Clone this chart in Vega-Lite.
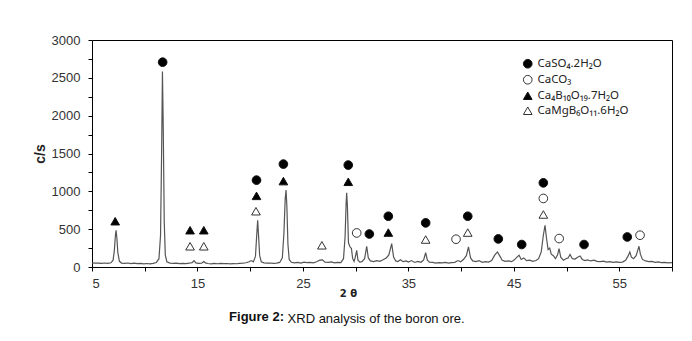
{
  "$schema": "https://vega.github.io/schema/vega-lite/v6.json",
  "background": "white",
  "padding": {"left": 32, "top": 33, "right": 5, "bottom": 5},
  "title": {"text": "XRD analysis of the boron ore.", "orient": "bottom", "anchor": "start", "font": "Liberation Sans", "fontSize": 13, "fontWeight": "normal", "color": "#111", "dx": 255, "dy": -16},
  "datasets": {
    "scan": [
      {"two_theta":5.0,"cps":55},{"two_theta":5.3,"cps":50},{"two_theta":5.6,"cps":52},{"two_theta":5.9,"cps":47},{"two_theta":6.2,"cps":53},{"two_theta":6.5,"cps":49},{"two_theta":6.8,"cps":56},{"two_theta":7.0,"cps":90},{"two_theta":7.12,"cps":220},{"two_theta":7.22,"cps":420},{"two_theta":7.28,"cps":486},{"two_theta":7.36,"cps":380},{"two_theta":7.45,"cps":190},{"two_theta":7.6,"cps":75},{"two_theta":7.8,"cps":52},{"two_theta":8.1,"cps":47},{"two_theta":8.4,"cps":53},{"two_theta":8.7,"cps":45},{"two_theta":9.0,"cps":50},{"two_theta":9.3,"cps":44},{"two_theta":9.6,"cps":48},{"two_theta":9.9,"cps":42},{"two_theta":10.2,"cps":46},{"two_theta":10.5,"cps":41},{"two_theta":10.8,"cps":47},{"two_theta":11.1,"cps":60},{"two_theta":11.35,"cps":110},{"two_theta":11.5,"cps":420},{"two_theta":11.6,"cps":1500},{"two_theta":11.68,"cps":2582},{"two_theta":11.76,"cps":1800},{"two_theta":11.85,"cps":600},{"two_theta":11.95,"cps":160},{"two_theta":12.1,"cps":70},{"two_theta":12.4,"cps":52},{"two_theta":12.7,"cps":47},{"two_theta":13.0,"cps":50},{"two_theta":13.3,"cps":44},{"two_theta":13.6,"cps":48},{"two_theta":13.9,"cps":45},{"two_theta":14.2,"cps":50},{"two_theta":14.5,"cps":58},{"two_theta":14.67,"cps":85},{"two_theta":14.85,"cps":55},{"two_theta":15.1,"cps":47},{"two_theta":15.4,"cps":50},{"two_theta":15.6,"cps":72},{"two_theta":15.75,"cps":55},{"two_theta":16.0,"cps":46},{"two_theta":16.3,"cps":42},{"two_theta":16.6,"cps":47},{"two_theta":16.9,"cps":43},{"two_theta":17.2,"cps":48},{"two_theta":17.5,"cps":44},{"two_theta":17.8,"cps":46},{"two_theta":18.1,"cps":41},{"two_theta":18.4,"cps":45},{"two_theta":18.7,"cps":43},{"two_theta":19.0,"cps":48},{"two_theta":19.3,"cps":50},{"two_theta":19.6,"cps":56},{"two_theta":19.9,"cps":70},{"two_theta":20.1,"cps":85},{"two_theta":20.3,"cps":68},{"two_theta":20.5,"cps":140},{"two_theta":20.62,"cps":420},{"two_theta":20.71,"cps":618},{"two_theta":20.8,"cps":400},{"two_theta":20.9,"cps":150},{"two_theta":21.05,"cps":70},{"two_theta":21.3,"cps":55},{"two_theta":21.6,"cps":50},{"two_theta":21.9,"cps":53},{"two_theta":22.2,"cps":48},{"two_theta":22.5,"cps":52},{"two_theta":22.8,"cps":60},{"two_theta":23.05,"cps":120},{"two_theta":23.2,"cps":450},{"two_theta":23.32,"cps":900},{"two_theta":23.4,"cps":1016},{"two_theta":23.48,"cps":800},{"two_theta":23.58,"cps":300},{"two_theta":23.7,"cps":100},{"two_theta":23.9,"cps":62},{"two_theta":24.2,"cps":55},{"two_theta":24.5,"cps":60},{"two_theta":24.8,"cps":52},{"two_theta":25.1,"cps":65},{"two_theta":25.4,"cps":58},{"two_theta":25.7,"cps":62},{"two_theta":26.0,"cps":55},{"two_theta":26.3,"cps":70},{"two_theta":26.6,"cps":90},{"two_theta":26.85,"cps":95},{"two_theta":27.1,"cps":65},{"two_theta":27.4,"cps":60},{"two_theta":27.7,"cps":68},{"two_theta":28.0,"cps":55},{"two_theta":28.3,"cps":62},{"two_theta":28.6,"cps":58},{"two_theta":28.85,"cps":110},{"two_theta":29.0,"cps":400},{"two_theta":29.1,"cps":850},{"two_theta":29.15,"cps":980},{"two_theta":29.22,"cps":800},{"two_theta":29.32,"cps":320},{"two_theta":29.45,"cps":270},{"two_theta":29.6,"cps":244},{"two_theta":29.72,"cps":110},{"two_theta":29.85,"cps":75},{"two_theta":29.95,"cps":120},{"two_theta":30.1,"cps":221},{"two_theta":30.22,"cps":90},{"two_theta":30.4,"cps":65},{"two_theta":30.6,"cps":70},{"two_theta":30.85,"cps":110},{"two_theta":31.05,"cps":274},{"two_theta":31.2,"cps":120},{"two_theta":31.4,"cps":80},{"two_theta":31.7,"cps":72},{"two_theta":32.0,"cps":85},{"two_theta":32.3,"cps":75},{"two_theta":32.6,"cps":95},{"two_theta":32.9,"cps":120},{"two_theta":33.15,"cps":160},{"two_theta":33.42,"cps":310},{"two_theta":33.6,"cps":130},{"two_theta":33.8,"cps":80},{"two_theta":34.0,"cps":72},{"two_theta":34.25,"cps":95},{"two_theta":34.5,"cps":70},{"two_theta":34.8,"cps":80},{"two_theta":35.0,"cps":65},{"two_theta":35.3,"cps":85},{"two_theta":35.6,"cps":60},{"two_theta":35.9,"cps":75},{"two_theta":36.2,"cps":62},{"two_theta":36.45,"cps":95},{"two_theta":36.64,"cps":190},{"two_theta":36.8,"cps":90},{"two_theta":37.0,"cps":65},{"two_theta":37.3,"cps":60},{"two_theta":37.6,"cps":52},{"two_theta":37.9,"cps":58},{"two_theta":38.2,"cps":55},{"two_theta":38.5,"cps":60},{"two_theta":38.8,"cps":52},{"two_theta":39.1,"cps":58},{"two_theta":39.4,"cps":62},{"two_theta":39.7,"cps":85},{"two_theta":39.95,"cps":70},{"two_theta":40.2,"cps":95},{"two_theta":40.5,"cps":150},{"two_theta":40.7,"cps":265},{"two_theta":40.9,"cps":120},{"two_theta":41.1,"cps":80},{"two_theta":41.4,"cps":72},{"two_theta":41.7,"cps":85},{"two_theta":42.0,"cps":62},{"two_theta":42.3,"cps":70},{"two_theta":42.6,"cps":65},{"two_theta":42.9,"cps":85},{"two_theta":43.2,"cps":160},{"two_theta":43.45,"cps":199},{"two_theta":43.65,"cps":150},{"two_theta":43.9,"cps":90},{"two_theta":44.2,"cps":75},{"two_theta":44.5,"cps":80},{"two_theta":44.8,"cps":70},{"two_theta":45.05,"cps":95},{"two_theta":45.3,"cps":130},{"two_theta":45.5,"cps":155},{"two_theta":45.7,"cps":100},{"two_theta":45.95,"cps":120},{"two_theta":46.2,"cps":85},{"two_theta":46.5,"cps":90},{"two_theta":46.8,"cps":75},{"two_theta":47.1,"cps":85},{"two_theta":47.35,"cps":110},{"two_theta":47.6,"cps":200},{"two_theta":47.8,"cps":420},{"two_theta":47.96,"cps":552},{"two_theta":48.1,"cps":380},{"two_theta":48.25,"cps":230},{"two_theta":48.4,"cps":250},{"two_theta":48.55,"cps":170},{"two_theta":48.75,"cps":150},{"two_theta":48.95,"cps":110},{"two_theta":49.15,"cps":160},{"two_theta":49.29,"cps":244},{"two_theta":49.45,"cps":130},{"two_theta":49.7,"cps":90},{"two_theta":49.95,"cps":110},{"two_theta":50.15,"cps":120},{"two_theta":50.33,"cps":165},{"two_theta":50.55,"cps":110},{"two_theta":50.8,"cps":105},{"two_theta":51.05,"cps":130},{"two_theta":51.28,"cps":145},{"two_theta":51.5,"cps":100},{"two_theta":51.75,"cps":85},{"two_theta":52.0,"cps":95},{"two_theta":52.3,"cps":80},{"two_theta":52.6,"cps":90},{"two_theta":52.9,"cps":75},{"two_theta":53.2,"cps":70},{"two_theta":53.5,"cps":78},{"two_theta":53.8,"cps":65},{"two_theta":54.1,"cps":70},{"two_theta":54.4,"cps":62},{"two_theta":54.7,"cps":68},{"two_theta":55.0,"cps":60},{"two_theta":55.3,"cps":65},{"two_theta":55.6,"cps":90},{"two_theta":55.85,"cps":150},{"two_theta":56.0,"cps":199},{"two_theta":56.15,"cps":130},{"two_theta":56.35,"cps":110},{"two_theta":56.6,"cps":150},{"two_theta":56.75,"cps":220},{"two_theta":56.87,"cps":274},{"two_theta":57.0,"cps":170},{"two_theta":57.2,"cps":100},{"two_theta":57.5,"cps":80},{"two_theta":57.8,"cps":70},{"two_theta":58.1,"cps":75},{"two_theta":58.4,"cps":62},{"two_theta":58.7,"cps":68},{"two_theta":59.0,"cps":58},{"two_theta":59.3,"cps":62},{"two_theta":59.6,"cps":55},{"two_theta":60.0,"cps":58}
    ],
    "phases": [
      {"two_theta":7.2,"cps":605,"phase":"Ca₄B₁₀O₁₉.7H₂O"},
      {"two_theta":11.7,"cps":2707,"phase":"CaSO₄.2H₂O"},
      {"two_theta":14.3,"cps":486,"phase":"Ca₄B₁₀O₁₉.7H₂O"},
      {"two_theta":14.3,"cps":274,"phase":"CaMgB₆O₁₁.6H₂O"},
      {"two_theta":15.6,"cps":486,"phase":"Ca₄B₁₀O₁₉.7H₂O"},
      {"two_theta":15.6,"cps":274,"phase":"CaMgB₆O₁₁.6H₂O"},
      {"two_theta":20.6,"cps":1148,"phase":"CaSO₄.2H₂O"},
      {"two_theta":20.6,"cps":940,"phase":"Ca₄B₁₀O₁₉.7H₂O"},
      {"two_theta":20.55,"cps":737,"phase":"CaMgB₆O₁₁.6H₂O"},
      {"two_theta":23.15,"cps":1360,"phase":"CaSO₄.2H₂O"},
      {"two_theta":23.15,"cps":1135,"phase":"Ca₄B₁₀O₁₉.7H₂O"},
      {"two_theta":26.8,"cps":287,"phase":"CaMgB₆O₁₁.6H₂O"},
      {"two_theta":29.3,"cps":1347,"phase":"CaSO₄.2H₂O"},
      {"two_theta":29.3,"cps":1126,"phase":"Ca₄B₁₀O₁₉.7H₂O"},
      {"two_theta":30.1,"cps":450,"phase":"CaCO₃"},
      {"two_theta":31.3,"cps":436,"phase":"CaSO₄.2H₂O"},
      {"two_theta":33.1,"cps":671,"phase":"CaSO₄.2H₂O"},
      {"two_theta":33.1,"cps":455,"phase":"Ca₄B₁₀O₁₉.7H₂O"},
      {"two_theta":36.64,"cps":583,"phase":"CaSO₄.2H₂O"},
      {"two_theta":36.64,"cps":363,"phase":"CaMgB₆O₁₁.6H₂O"},
      {"two_theta":39.52,"cps":367,"phase":"CaCO₃"},
      {"two_theta":40.63,"cps":671,"phase":"CaSO₄.2H₂O"},
      {"two_theta":40.63,"cps":455,"phase":"CaMgB₆O₁₁.6H₂O"},
      {"two_theta":43.53,"cps":371,"phase":"CaSO₄.2H₂O"},
      {"two_theta":45.75,"cps":297,"phase":"CaSO₄.2H₂O"},
      {"two_theta":47.8,"cps":1112,"phase":"CaSO₄.2H₂O"},
      {"two_theta":47.8,"cps":906,"phase":"CaCO₃"},
      {"two_theta":47.8,"cps":694,"phase":"CaMgB₆O₁₁.6H₂O"},
      {"two_theta":49.3,"cps":376,"phase":"CaCO₃"},
      {"two_theta":51.66,"cps":297,"phase":"CaSO₄.2H₂O"},
      {"two_theta":55.76,"cps":397,"phase":"CaSO₄.2H₂O"},
      {"two_theta":56.97,"cps":420,"phase":"CaCO₃"}
    ]
  },
  "vconcat": [
    {
      "width": 580,
      "height": 227,
      "title": {"text": "Figure 2:", "orient": "bottom", "anchor": "start", "font": "Liberation Sans", "fontSize": 13, "fontWeight": "bold", "color": "#111", "dx": 196, "offset": 13},
      "layer": [
        {
          "data": {"name": "scan"},
          "mark": {"type": "line", "color": "#555", "strokeWidth": 1.2, "clip": true},
          "encoding": {
            "x": {"field": "two_theta", "type": "quantitative", "scale": {"domain": [5, 60], "nice": false, "zero": false},
              "axis": {"values": [5,10,15,20,25,30,35,40,45,50,55,60], "tickCount": 30, "labelOverlap": false, "labelExpr": "datum.value % 10 == 5 ? datum.label : ''", "title": "2 θ", "titleFontSize": 10, "titleFontWeight": "bold", "titleFont": "DejaVu Sans", "titleColor": "#222", "titleX": 256, "titleY": 26, "titleBaseline": "middle", "titleAlign": "center", "labelPadding": 6}},
            "y": {"field": "cps", "type": "quantitative", "scale": {"domain": [0, 3000], "nice": false},
              "axis": {"values": [0,250,500,750,1000,1250,1500,1750,2000,2250,2500,2750,3000], "tickCount": 30, "labelOverlap": false, "format": "d", "labelExpr": "datum.value % 500 == 0 ? datum.label : ''", "title": "c/s", "titleFontSize": 14, "titleFontWeight": "bold", "titleColor": "#222", "titlePadding": 4, "labelPadding": 8}}
          }
        },
        {
          "data": {"name": "phases"},
          "mark": {"type": "point", "size": 75, "strokeWidth": 1, "opacity": 1},
          "encoding": {
            "x": {"field": "two_theta", "type": "quantitative"},
            "y": {"field": "cps", "type": "quantitative"},
            "shape": {"field": "phase", "type": "nominal",
              "scale": {"domain": ["CaSO₄.2H₂O", "CaCO₃", "Ca₄B₁₀O₁₉.7H₂O", "CaMgB₆O₁₁.6H₂O"], "range": ["circle", "circle", "triangle-up", "triangle-up"]},
              "legend": {"title": null, "orient": "none", "legendX": 430, "legendY": 18}},
            "fill": {"field": "phase", "type": "nominal",
              "scale": {"domain": ["CaSO₄.2H₂O", "CaCO₃", "Ca₄B₁₀O₁₉.7H₂O", "CaMgB₆O₁₁.6H₂O"], "range": ["#000", "#fff", "#000", "#fff"]},
              "legend": {"title": null, "orient": "none", "legendX": 430, "legendY": 18}},
            "stroke": {"field": "phase", "type": "nominal",
              "scale": {"domain": ["CaSO₄.2H₂O", "CaCO₃", "Ca₄B₁₀O₁₉.7H₂O", "CaMgB₆O₁₁.6H₂O"], "range": ["#111", "#333", "#111", "#333"]},
              "legend": {"title": null, "orient": "none", "legendX": 430, "legendY": 18}}
          }
        }
      ]
    }
  ],
  "config": {
    "view": {"stroke": "#000", "strokeWidth": 1},
    "axis": {"grid": false, "domain": false, "ticks": true, "tickSize": 4, "tickColor": "#000", "labelFont": "Liberation Sans", "labelFontSize": 13, "labelColor": "#333", "titleFont": "Liberation Sans", "labelOverlap": false},
    "legend": {"labelFont": "Noto Sans", "labelFontSize": 11.5, "labelColor": "#222", "symbolSize": 75, "symbolStrokeWidth": 1, "rowPadding": 2, "labelOffset": 4, "padding": 0}
  }
}
